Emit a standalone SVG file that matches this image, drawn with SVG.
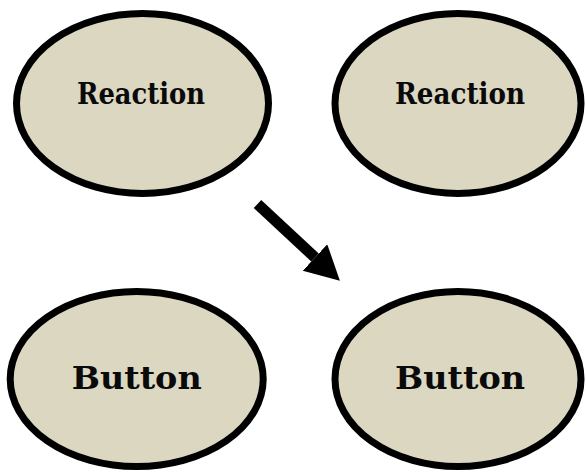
<svg xmlns="http://www.w3.org/2000/svg" width="586" height="473" viewBox="0 0 586 473">
  <style>
    .node { fill: #dbd7c1; stroke: #000; stroke-width: 7; }
    .label { font-family: "DejaVu Serif", "Liberation Serif", serif; font-weight: bold; fill: #0a0a0a; text-anchor: middle; }
    .small { font-size: 29px; }
    .big { font-size: 31px; }
    .edge { stroke: #000; stroke-width: 11; fill: none; }
  </style>
  <defs>
    <marker id="head" markerUnits="userSpaceOnUse" markerWidth="36" markerHeight="38" refX="0" refY="18" orient="auto">
      <path d="M0,0 L34,18 L0,36 z" fill="#000"/>
    </marker>
  </defs>
  <rect width="586" height="473" fill="#fff"/>

  <g id="reaction-left">
    <ellipse class="node" cx="142.5" cy="103.5" rx="126" ry="90"/>
    <text class="label small" x="141" y="104" textLength="128" lengthAdjust="spacingAndGlyphs">Reaction</text>
  </g>
  <g id="reaction-right">
    <ellipse class="node" cx="458" cy="103.5" rx="123" ry="90"/>
    <text class="label small" x="460" y="104" textLength="130" lengthAdjust="spacingAndGlyphs">Reaction</text>
  </g>
  <g id="button-left">
    <ellipse class="node" cx="136.7" cy="379" rx="126.5" ry="87.5"/>
    <text class="label big" x="136.7" y="389.3" textLength="130" lengthAdjust="spacingAndGlyphs">Button</text>
  </g>
  <g id="button-right">
    <ellipse class="node" cx="458" cy="379" rx="123" ry="87.5"/>
    <text class="label big" x="460" y="389" textLength="130" lengthAdjust="spacingAndGlyphs">Button</text>
  </g>

  <g id="connectors">
    <line class="edge" x1="257.5" y1="204" x2="315" y2="257.5" marker-end="url(#head)"/>
  </g>
</svg>
